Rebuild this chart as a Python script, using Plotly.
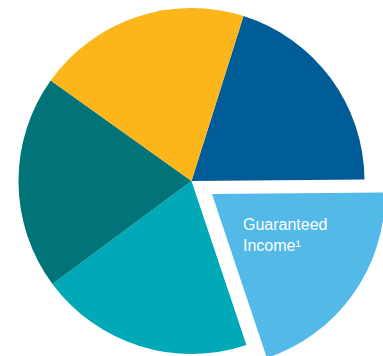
import plotly.graph_objects as go

# Data
labels = ["Segment A", "Guaranteed Income¹", "Segment C", "Segment D", "Segment E"]
values = [20, 20, 20, 20, 20]
colors = ["#005C97", "#52B9E9", "#00A9B7", "#007479", "#FCB61A"]
pulled_label = "Guaranteed Income¹"

W, H = 395, 370
# main pie geometry (pixels)
cx, cy, r = 191.5, 181.0, 173.0
# pulled slice centre offset (pixels)
px, py = 212.0, 194.0


def dom(cxp, cyp, rp):
    return dict(x=[(cxp - rp) / W, (cxp + rp) / W],
                y=[1 - (cyp + rp) / H, 1 - (cyp - rp) / H])


transparent = "rgba(0,0,0,0)"
colors_main = [transparent if l == pulled_label else c for l, c in zip(labels, colors)]
colors_pull = [c if l == pulled_label else transparent for l, c in zip(labels, colors)]

fig = go.Figure()
fig.add_trace(go.Pie(labels=labels, values=values, sort=False, direction="clockwise",
                     rotation=17.5, marker=dict(colors=colors_main, line=dict(width=0)),
                     textinfo="none", hoverinfo="skip", domain=dom(cx, cy, r)))
fig.add_trace(go.Pie(labels=labels, values=values, sort=False, direction="clockwise",
                     rotation=17.5, marker=dict(colors=colors_pull, line=dict(width=0)),
                     textinfo="none", hoverinfo="skip", domain=dom(px, py, r)))

fig.add_annotation(x=241 / W, y=1 - 235 / H, xref="paper", yref="paper",
                   xanchor="left", yanchor="middle", align="left", showarrow=False,
                   text="Guaranteed<br>Income¹",
                   font=dict(family="Liberation Sans, Arial", size=16, color="white"))

fig.update_layout(width=W, height=H, margin=dict(l=0, r=0, t=0, b=0),
                  paper_bgcolor="white", plot_bgcolor="white", showlegend=False)

fig.write_html("out.html", config={"displayModeBar": False},
               post_script="document.body.style.margin='0';document.body.style.overflow='hidden';document.documentElement.style.overflow='hidden';")
